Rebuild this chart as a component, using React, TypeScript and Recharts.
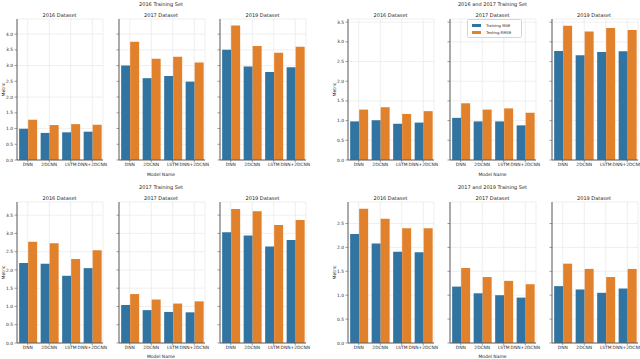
import { Bar, BarChart, CartesianGrid, Legend, XAxis, YAxis } from "recharts";

const FONT = "DejaVu Sans, sans-serif";
const BLUE = "#3274a1";
const ORANGE = "#e1812c";
const GRID = "#ebebeb";
const FRAME = "#5e5e5e";
const TEXT = "#262626";

// categories
const models = ["DNN", "2DCNN", "LSTM", "DNN+2DCNN"];
const datasets = ["2016 Dataset", "2017 Dataset", "2019 Dataset"];
const legendOrder = ["mae", "rmse"];

// one row per dataset (2016, 2017, 2019), one value per model
const train2016Mae = [
  [0.99, 0.86, 0.88, 0.9],
  [3.0, 2.6, 2.67, 2.49],
  [3.5, 2.97, 2.8, 2.95],
];
const train2016Rmse = [
  [1.28, 1.11, 1.14, 1.12],
  [3.76, 3.22, 3.28, 3.1],
  [4.27, 3.62, 3.41, 3.6],
];
const train2016Ticks = [0, 0.5, 1, 1.5, 2, 2.5, 3, 3.5, 4];

const train1617Mae = [
  [0.98, 1.01, 0.92, 0.95],
  [1.07, 0.98, 0.98, 0.88],
  [2.77, 2.66, 2.74, 2.76],
];
const train1617Rmse = [
  [1.28, 1.34, 1.17, 1.24],
  [1.44, 1.28, 1.31, 1.2],
  [3.41, 3.26, 3.35, 3.3],
];
const train1617Ticks = [0, 0.5, 1, 1.5, 2, 2.5, 3, 3.5];

const train2017Mae = [
  [2.19, 2.17, 1.84, 2.05],
  [1.04, 0.9, 0.85, 0.84],
  [3.03, 2.94, 2.64, 2.82],
];
const train2017Rmse = [
  [2.77, 2.73, 2.3, 2.54],
  [1.34, 1.19, 1.08, 1.14],
  [3.67, 3.61, 3.23, 3.37],
];
const train2017Ticks = [0, 0.5, 1, 1.5, 2, 2.5, 3, 3.5];

const train1719Mae = [
  [2.28, 2.08, 1.91, 1.9],
  [1.18, 1.04, 1.0, 0.95],
  [1.19, 1.12, 1.05, 1.14],
];
const train1719Rmse = [
  [2.81, 2.6, 2.4, 2.4],
  [1.57, 1.38, 1.3, 1.23],
  [1.66, 1.55, 1.38, 1.55],
];
const train1719Ticks = [0, 0.5, 1, 1.5, 2, 2.5];

// layout
const PLOT_W = 85;
const PLOT_H = 141;
const AXIS_W = 22;
const XAXIS_H = 12;
const RIGHT_PAD = 12;
const LEFT_COLS = [17, 118.5, 220];
const RIGHT_COLS = [348, 450, 551.5];

const groups = [
  { title: "2016 Training Set", mae: train2016Mae, rmse: train2016Rmse, ticks: train2016Ticks, ymax: 4.48, cols: LEFT_COLS, top: 19 },
  { title: "2016 and 2017 Training Set", mae: train1617Mae, rmse: train1617Rmse, ticks: train1617Ticks, ymax: 3.58, cols: RIGHT_COLS, top: 19 },
  { title: "2017 Training Set", mae: train2017Mae, rmse: train2017Rmse, ticks: train2017Ticks, ymax: 3.86, cols: LEFT_COLS, top: 202 },
  { title: "2017 and 2019 Training Set", mae: train1719Mae, rmse: train1719Rmse, ticks: train1719Ticks, ymax: 2.95, cols: RIGHT_COLS, top: 202 },
];

function LegendBox({ payload }: { payload?: Array<{ value: string; color: string; dataKey?: string }> }) {
  if (!payload) return null;
  const items = [...payload].sort(
    (a, b) => legendOrder.indexOf(String(a.dataKey)) - legendOrder.indexOf(String(b.dataKey))
  );
  return (
    <div
      style={{
        background: "rgba(255,255,255,0.85)",
        border: "0.6px solid #d6d6d6",
        borderRadius: 1.5,
        padding: "2px 10px 1px 4px",
        fontFamily: FONT,
        fontSize: 3.8,
        color: TEXT,
        lineHeight: "7px",
      }}
    >
      {items.map((p) => (
        <div key={p.value} style={{ display: "flex", alignItems: "center", whiteSpace: "nowrap" }}>
          <span style={{ display: "inline-block", width: 9, height: 3, background: p.color, marginRight: 5 }} />
          {p.value}
        </div>
      ))}
    </div>
  );
}

interface PanelProps {
  mae: number[];
  rmse: number[];
  ticks: number[];
  ymax: number;
  left: number;
  top: number;
  showLabels: boolean;
  showLegend: boolean;
}

function Panel({ mae, rmse, ticks, ymax, left, top, showLabels, showLegend }: PanelProps) {
  const data = models.map((m, i) => ({ model: m, mae: mae[i], rmse: rmse[i] }));
  const tickStyle = { fontSize: 4.4, fill: TEXT, fontFamily: FONT };
  return (
    <div style={{ position: "absolute", left: left - AXIS_W, top: top - 1 }}>
      <BarChart
        width={PLOT_W + AXIS_W + 1 + RIGHT_PAD}
        height={PLOT_H + 1 + XAXIS_H}
        data={data}
        margin={{ top: 1, right: RIGHT_PAD, bottom: 0, left: 0 }}
        barCategoryGap="10%"
        barGap={0}
      >
        <CartesianGrid stroke={GRID} strokeWidth={0.8} />
        <XAxis
          dataKey="model"
          interval={0}
          height={XAXIS_H}
          tickSize={2}
          tickMargin={1}
          tick={tickStyle}
          axisLine={{ stroke: FRAME }}
          tickLine={{ stroke: FRAME, strokeWidth: 0.6 }}
        />
        <XAxis
          xAxisId="top"
          dataKey="model"
          orientation="top"
          height={0}
          tick={false}
          tickLine={false}
          axisLine={{ stroke: FRAME }}
        />
        <YAxis
          type="number"
          domain={[0, ymax]}
          ticks={ticks}
          width={AXIS_W}
          tickSize={2.5}
          tickMargin={1.5}
          tick={tickStyle}
          tickFormatter={(v: number) => (showLabels ? v.toFixed(1) : "")}
          axisLine={{ stroke: FRAME }}
          tickLine={{ stroke: FRAME, strokeWidth: 0.6 }}
          allowDataOverflow
        />
        <YAxis
          yAxisId="right"
          type="number"
          orientation="right"
          domain={[0, ymax]}
          width={0}
          tick={false}
          tickLine={false}
          axisLine={{ stroke: FRAME }}
        />
        <Bar dataKey="mae" name="Training MAE" fill={BLUE} isAnimationActive={false} />
        <Bar dataKey="rmse" name="Testing RMSE" fill={ORANGE} isAnimationActive={false} />
        {showLegend && (
          <Legend
            layout="vertical"
            align="center"
            verticalAlign="middle"
            itemSorter="dataKey"
            content={<LegendBox />}
            wrapperStyle={{ position: "absolute", left: 39, top: 1, width: "auto" }}
          />
        )}
      </BarChart>
    </div>
  );
}

export default function App() {
  return (
    <div
      style={{
        position: "absolute",
        left: 0,
        top: 0,
        width: 640,
        height: 359,
        background: "#fff",
        overflow: "hidden",
        fontFamily: FONT,
      }}
    >
      {groups.map((g, gi) =>
        g.cols.map((x, di) => (
          <Panel
            key={`${gi}-${di}`}
            mae={g.mae[di]}
            rmse={g.rmse[di]}
            ticks={g.ticks}
            ymax={g.ymax}
            left={x}
            top={g.top}
            showLabels={di === 0}
            showLegend={gi === 1 && di === 1}
          />
        ))
      )}
      <svg
        width={640}
        height={359}
        style={{ position: "absolute", left: 0, top: 0, pointerEvents: "none" }}
      >
        {groups.map((g, gi) => {
          const mid = g.cols[1] + PLOT_W / 2;
          const yAxisX = g.cols[0] - 12;
          const yMid = g.top + PLOT_H / 2;
          return (
            <g key={gi} fontFamily={FONT} fill={TEXT}>
              <text x={mid} y={g.top - 13} fontSize={5} textAnchor="middle">
                {g.title}
              </text>
              {g.cols.map((x, di) => (
                <text key={di} x={x + PLOT_W / 2} y={g.top - 2.5} fontSize={5} textAnchor="middle">
                  {datasets[di]}
                </text>
              ))}
              <text x={mid} y={Math.min(g.top + PLOT_H + 16, 357.5)} fontSize={4.5} textAnchor="middle">
                Model Name
              </text>
              <text
                x={yAxisX}
                y={yMid}
                fontSize={4.5}
                textAnchor="middle"
                transform={`rotate(-90 ${yAxisX} ${yMid})`}
              >
                Metric
              </text>
            </g>
          );
        })}
      </svg>
    </div>
  );
}
